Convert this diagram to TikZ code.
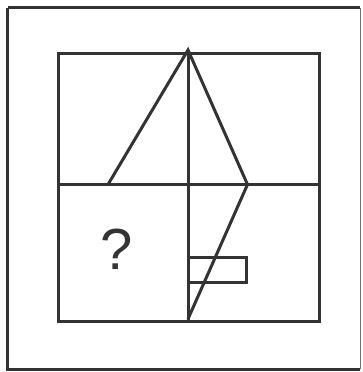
\documentclass[tikz,border=0pt]{standalone}
\usepackage{fontspec}
\setmainfont{Liberation Sans}
\definecolor{ink}{HTML}{333333}
\begin{document}
\begin{tikzpicture}[x=1pt,y=-1pt,
  ln/.style={draw=ink,line width=3pt},
  fr/.style={draw=ink,line width=3pt}]
\useasboundingbox (0,0) rectangle (362,372);
% outer frame
\draw[fr] (7.5,7.5) -- (7.5,369) -- (360,369);
\draw[fr] (7.5,7.5) -- (360,7.5);
\draw[draw=ink!70,line width=1pt] (360.5,7.5) -- (360.5,369);
% inner grid
\coordinate (tl) at (58,53);
\coordinate (br) at (319,321);
\draw[ln] (tl) rectangle (br);
\coordinate (ml) at (58,184.5);
\coordinate (mr) at (319,184.5);
\draw[ln] (ml) -- (mr);
\coordinate (apex) at (188,50);
\coordinate (bot) at (188,321);
\draw[ln] (apex) -- (bot);
\coordinate (lf) at (108,184.5);
\coordinate (rp) at (247.5,184.5);
\coordinate (bp) at (188,319);
\draw[ln,line join=miter] (lf) -- (apex) -- (rp) -- (bp);
\draw[ln] (188,257) rectangle (246,282.5);
\node[text=ink,font=\fontsize{58}{58}\selectfont,inner sep=0pt] (q) at (117,249) {?};
\end{tikzpicture}
\end{document}
